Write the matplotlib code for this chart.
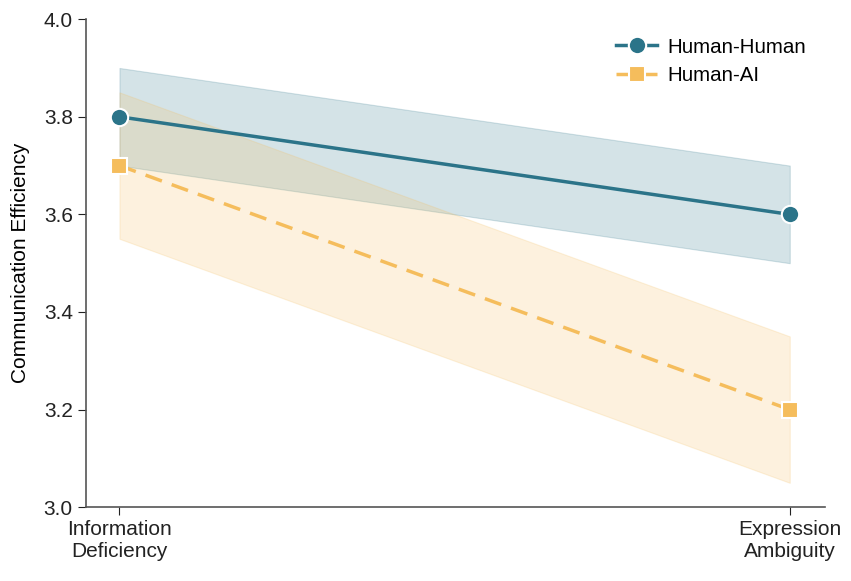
import numpy as np
import matplotlib.pyplot as plt

plt.rcParams['font.family'] = ['Liberation Sans', 'DejaVu Sans']

# datos
categorias = ['Information\nDeficiency', 'Expression\nAmbiguity']
hh_media = [3.80, 3.60]
hh_inf = [3.70, 3.50]
hh_sup = [3.90, 3.70]
ai_media = [3.70, 3.20]
ai_inf = [3.55, 3.05]
ai_sup = [3.85, 3.35]

azul = '#2b7489'
naranja = '#f5bd5c'

fig = plt.figure(figsize=(8.51, 5.81), dpi=100)
ax = fig.add_axes([0.101, 0.127, 0.868, 0.840])

x = np.arange(len(categorias))

# bandas de confianza
ax.fill_between(x, hh_inf, hh_sup, color=azul, alpha=0.2, edgecolor=azul, linewidth=0.8)
ax.fill_between(x, ai_inf, ai_sup, color=naranja, alpha=0.2, edgecolor=naranja, linewidth=0.8)

# lineas
ax.plot(x, hh_media, color=azul, linewidth=2.5, marker='o', markersize=12.5,
        markeredgecolor='white', markeredgewidth=1.5, label='Human-Human', zorder=3)
ax.plot(x, ai_media, color=naranja, linewidth=2.5, linestyle=(0, (5, 3)), marker='s',
        markersize=11.5, markeredgecolor='white', markeredgewidth=1.5, label='Human-AI', zorder=3)

ax.set_xlim(-0.05, 1.052)
ax.set_ylim(3.0, 4.0)
ax.set_yticks([3.0, 3.2, 3.4, 3.6, 3.8, 4.0])
ax.set_xticks(x)
ax.set_xticklabels(categorias)
ax.tick_params(labelsize=15, colors='#222222', length=6)
ax.set_ylabel('Communication Efficiency', fontsize=15, labelpad=10)

for lado in ['top', 'right']:
    ax.spines[lado].set_visible(False)
for lado in ['left', 'bottom']:
    ax.spines[lado].set_color('#555555')
    ax.spines[lado].set_linewidth(1.2)

ax.legend(loc='upper right', bbox_to_anchor=(1.0, 1.0), frameon=False, fontsize=14.8,
          handlelength=2.0, handletextpad=0.5, labelspacing=0.45)

fig.savefig('out.png', dpi=100)
